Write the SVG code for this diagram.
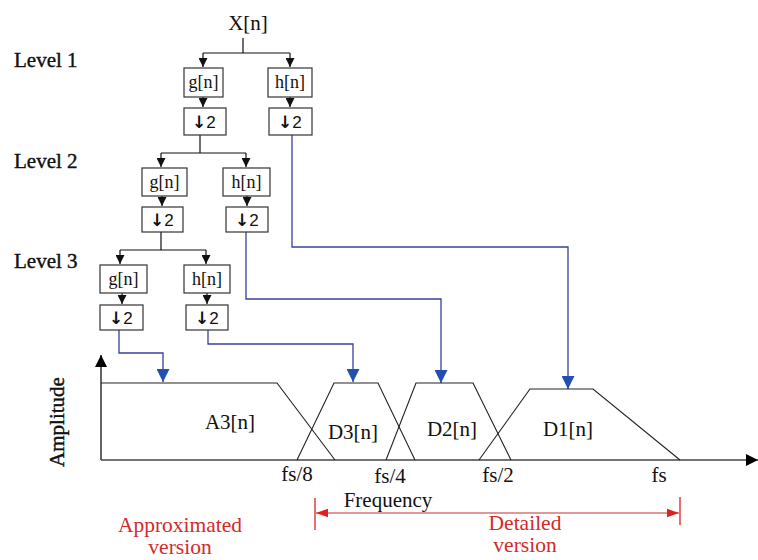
<svg xmlns="http://www.w3.org/2000/svg" width="758" height="560" viewBox="0 0 758 560">
<defs>
<style>
.box{fill:#fff;stroke:#333;stroke-width:1.2}
.t{font-family:"Liberation Serif","Times New Roman",serif;fill:#111}
.f{font-size:18px;text-anchor:middle}
.d{font-size:17px;font-family:"Liberation Sans",Arial,sans-serif;fill:#111}
.dar{font-family:"DejaVu Sans",sans-serif;font-weight:bold;font-size:17px}
.lv{font-family:"Liberation Serif",serif;font-size:21px;fill:#111;stroke:#111;stroke-width:0.4}
.blk{fill:none;stroke:#111;stroke-width:1.2}
.blu{fill:none;stroke:#3a3f9a;stroke-width:1.3}
.crv{fill:none;stroke:#222;stroke-width:1.1}
.lab{font-family:"Liberation Serif",serif;font-size:21px;fill:#111;text-anchor:middle}
.red{font-family:"Liberation Serif",serif;font-size:21.5px;fill:#d42a2a;text-anchor:middle}
</style>
<marker id="ab" viewBox="0 0 10 10" refX="10" refY="5" markerWidth="9" markerHeight="9" markerUnits="userSpaceOnUse" orient="auto"><path d="M0,0L10,5L0,10z" fill="#111"/></marker>
<marker id="au" viewBox="0 0 10 10" refX="10" refY="5" markerWidth="13" markerHeight="13" markerUnits="userSpaceOnUse" orient="auto"><path d="M0,0L10,5L0,10z" fill="#2350b0"/></marker>
<marker id="ar" viewBox="0 0 10 10" refX="10" refY="5" markerWidth="16" markerHeight="12" markerUnits="userSpaceOnUse" orient="auto"><path d="M0,1.5L10,5L0,8.5z" fill="#e02020"/></marker>
<marker id="ax" viewBox="0 0 10 10" refX="10" refY="5" markerWidth="12" markerHeight="16" markerUnits="userSpaceOnUse" orient="auto"><path d="M0,0L10,5L0,10z" fill="#000"/></marker>
</defs>
<rect width="758" height="560" fill="#fff"/>

<text class="t" x="248" y="30" font-size="21" text-anchor="middle">X[n]</text>
<text class="lv" x="14" y="67">Level 1</text>
<text class="lv" x="14" y="168">Level 2</text>
<text class="lv" x="14" y="268">Level 3</text>

<g id="connectors">
<path class="blk" d="M243,38V53M203,53H290M203,53V67" marker-end="url(#ab)"/>
<path class="blk" d="M290,53V67" marker-end="url(#ab)"/>
<path class="blk" d="M203,97V107" marker-end="url(#ab)"/>
<path class="blk" d="M290,97V107" marker-end="url(#ab)"/>
<path class="blk" d="M200,135V153M161,153H246M161,153V167" marker-end="url(#ab)"/>
<path class="blk" d="M246,153V167" marker-end="url(#ab)"/>
<path class="blk" d="M162,196V206" marker-end="url(#ab)"/>
<path class="blk" d="M247,196V206" marker-end="url(#ab)"/>
<path class="blk" d="M161,232V250M120,250H206M120,250V264" marker-end="url(#ab)"/>
<path class="blk" d="M206,250V264" marker-end="url(#ab)"/>
<path class="blk" d="M122,293V304" marker-end="url(#ab)"/>
<path class="blk" d="M207,293V304" marker-end="url(#ab)"/>
<path class="blu" d="M119,330V353H163V382" marker-end="url(#au)"/>
<path class="blu" d="M208,330V344H353V382" marker-end="url(#au)"/>
<path class="blu" d="M246,232V299H441V383" marker-end="url(#au)"/>
<path class="blu" d="M292,135V247H568V389" marker-end="url(#au)"/>
</g>

<g id="L1g"><rect class="box" x="184" y="68" width="39" height="29"/><text class="t f" x="203.5" y="88">g[n]</text></g>
<g id="L1h"><rect class="box" x="268" y="68" width="44" height="29"/><text class="t f" x="290" y="88">h[n]</text></g>
<g id="L1gd"><rect class="box" x="184" y="108" width="42" height="27"/><text class="d" x="192" y="128"><tspan class="dar">↓</tspan>2</text></g>
<g id="L1hd"><rect class="box" x="269" y="108" width="43" height="27"/><text class="d" x="278" y="128"><tspan class="dar">↓</tspan>2</text></g>

<g id="L2g"><rect class="box" x="142" y="168" width="45" height="28"/><text class="t f" x="164.5" y="188">g[n]</text></g>
<g id="L2h"><rect class="box" x="223" y="168" width="47" height="28"/><text class="t f" x="246.5" y="188">h[n]</text></g>
<g id="L2gd"><rect class="box" x="142" y="207" width="41" height="25"/><text class="d" x="150" y="226"><tspan class="dar">↓</tspan>2</text></g>
<g id="L2hd"><rect class="box" x="226" y="207" width="42" height="25"/><text class="d" x="235" y="226"><tspan class="dar">↓</tspan>2</text></g>

<g id="L3g"><rect class="box" x="100" y="265" width="47" height="28"/><text class="t f" x="123.5" y="285">g[n]</text></g>
<g id="L3h"><rect class="box" x="184" y="265" width="46" height="28"/><text class="t f" x="207" y="285">h[n]</text></g>
<g id="L3gd"><rect class="box" x="100" y="305" width="43" height="25"/><text class="d" x="109" y="324"><tspan class="dar">↓</tspan>2</text></g>
<g id="L3hd"><rect class="box" x="186" y="305" width="42" height="25"/><text class="d" x="195" y="324"><tspan class="dar">↓</tspan>2</text></g>

<g id="axes">
<path d="M101,460V355" stroke="#111" stroke-width="1.3" fill="none" marker-end="url(#ax)"/>
<path d="M101,460H758" stroke="#444" stroke-width="1.3" fill="none" marker-end="url(#ax)"/>
<text class="lv" transform="translate(64,422) rotate(-90)" text-anchor="middle">Amplitude</text>
</g>

<g id="bands">
<path class="crv" d="M101,383H277L335,460"/>
<path class="crv" d="M297,460L334,383H378L415,460"/>
<path class="crv" d="M386,460L416,383H473L511,460"/>
<path class="crv" d="M479,460L530,389H593L680,460"/>
<text class="lab" x="230" y="429">A3[n]</text>
<text class="lab" x="353" y="439">D3[n]</text>
<text class="lab" x="452" y="436">D2[n]</text>
<text class="lab" x="568" y="436">D1[n]</text>
<text class="lab" x="297" y="481" font-size="20">fs/8</text>
<text class="lab" x="390" y="483" font-size="20">fs/4</text>
<text class="lab" x="498" y="482" font-size="20">fs/2</text>
<text class="lab" x="659" y="482" font-size="20">fs</text>
<text class="lab" x="388" y="507" font-size="20">Frequency</text>
</g>

<g id="range">
<path d="M315,498V530M680,497V525" stroke="#e02020" stroke-width="1.3" fill="none"/>
<path d="M497,513H316" stroke="#c03030" stroke-width="1.2" fill="none" marker-end="url(#ar)"/>
<path d="M497,513H679" stroke="#c03030" stroke-width="1.2" fill="none" marker-end="url(#ar)"/>
<text class="red" x="180" y="532">Approximated</text>
<text class="red" x="180" y="554">version</text>
<text class="red" x="525" y="530">Detailed</text>
<text class="red" x="525" y="552">version</text>
</g>
</svg>
